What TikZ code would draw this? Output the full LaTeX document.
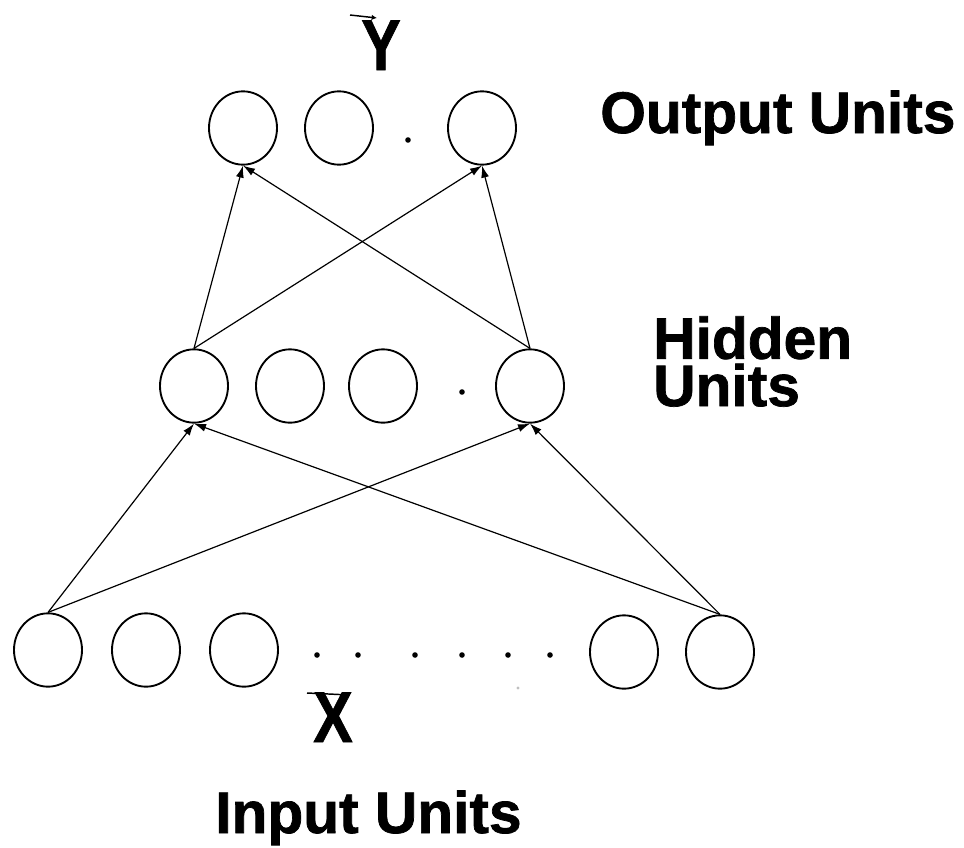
\documentclass[tikz,border=0pt]{standalone}
\usepackage{fontspec}
\setmainfont{Liberation Sans}
\newfontfamily\heavysans{Liberation Sans}[FakeBold=1.2]
\usetikzlibrary{shapes.geometric,arrows.meta}
\tikzset{
  unit/.style={ellipse, draw, line width=1.4pt, minimum width=51pt, minimum height=55pt, inner sep=0pt},
  conn/.style={line width=0.9pt, -{Latex[length=9pt,width=6pt]}},
  lbl/.style={anchor=base west, inner sep=0pt, font=\fontsize{44}{35.5}\selectfont\heavysans\bfseries},
  vlbl/.style={anchor=base, inner sep=0pt, xscale=0.82, font=\fontsize{54}{54}\selectfont\heavysans\bfseries},
  dotmark/.style={circle, fill, inner sep=0pt, minimum size=4.2pt},
  vecarrow/.style={line width=1.1pt, -{Latex[length=4pt,width=4pt]}}
}
\begin{document}
\begin{tikzpicture}[x=0.75pt,y=-0.75pt]
\useasboundingbox (0,0) rectangle (964,847);
% output units
\node[unit] (o1) at (243,128) {};
\node[unit] (o2) at (339,128) {};
\node[unit] (o3) at (482,128) {};
\node[dotmark] (od) at (408,140) {};
% hidden units
\node[unit] (h1) at (194,386) {};
\node[unit] (h2) at (290,386) {};
\node[unit] (h3) at (383,386) {};
\node[dotmark] (hd) at (462,392) {};
\node[unit] (h4) at (530,386) {};
% input units
\node[unit] (i1) at (48,650) {};
\node[unit] (i2) at (146,650) {};
\node[unit] (i3) at (244,650) {};
\node[unit] (i4) at (624,652) {};
\node[unit] (i5) at (720,652) {};
\foreach \x [count=\k] in {317,358,415,462,508,550} {
  \node[dotmark] (id\k) at (\x,655) {};
}
\node[circle, fill=black!25, inner sep=0pt, minimum size=2.5pt] (smudge) at (518,688) {};
% connectors
\draw[conn] (i1.north) -- (h1.south);
\draw[conn] (i1.north) -- (h4.south);
\draw[conn] (i5.north) -- (h1.south);
\draw[conn] (i5.north) -- (h4.south);
\draw[conn] (h1.north) -- (o1.south);
\draw[conn] (h1.north) -- (o3.south);
\draw[conn] (h4.north) -- (o1.south);
\draw[conn] (h4.north) -- (o3.south);
% labels
\node[lbl] (outl) at (600,133) {Output Units};
\node[lbl, anchor=north west, align=left] (hidl) at (653,316) {Hidden\\Units};
\node[lbl] (inl) at (215,833) {Input Units};
\node[vlbl] (ylab) at (381,70) {Y};
\node[vlbl] (xlab) at (333,742) {X};
\coordinate (ya) at (350,15);
\coordinate (yb) at (377,18);
\draw[vecarrow] (ya) -- (yb);
\coordinate (xa) at (307,693);
\coordinate (xb) at (350,695);
\draw[vecarrow] (xa) -- (xb);
\end{tikzpicture}
\end{document}
